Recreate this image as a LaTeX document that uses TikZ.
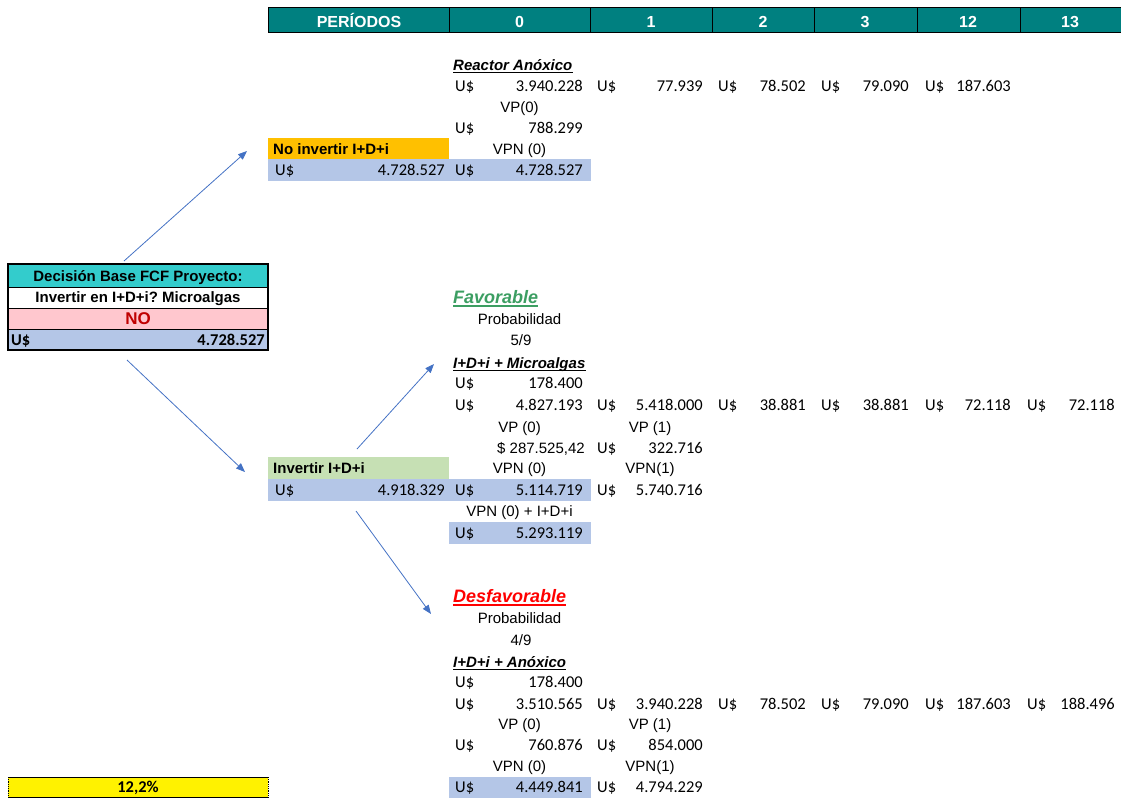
\documentclass[tikz,border=0pt]{standalone}
\usepackage{fontspec}
\setmainfont{Carlito}
\newfontfamily\arialf{Liberation Sans}
\usetikzlibrary{arrows.meta}
\frenchspacing
\definecolor{hdrteal}{HTML}{008080}
\definecolor{cellorange}{HTML}{FFC000}
\definecolor{cellblue}{HTML}{B4C6E7}
\definecolor{cellgreen}{HTML}{C6E0B4}
\definecolor{cellcyan}{HTML}{33CCCC}
\definecolor{cellpink}{HTML}{FFC7CE}
\definecolor{darkred}{HTML}{C00000}
\definecolor{favgreen}{HTML}{3C9E62}
\definecolor{arrblue}{HTML}{4472C4}
\tikzset{
  num/.style={inner sep=0pt, font=\fontsize{16.5}{18}\selectfont},
  numb/.style={inner sep=0pt, font=\bfseries\fontsize{16.5}{18}\selectfont},
  lab/.style={inner sep=0pt, font=\arialf\fontsize{15}{17}\selectfont},
  labb/.style={inner sep=0pt, font=\arialf\bfseries\fontsize{15}{17}\selectfont},
  ttl/.style={inner sep=0pt, font=\arialf\bfseries\itshape\fontsize{15}{17}\selectfont},
  bigttl/.style={inner sep=0pt, font=\arialf\bfseries\itshape\fontsize{18}{20}\selectfont},
  hdr/.style={inner sep=0pt, text=white, font=\arialf\bfseries\fontsize{16}{18}\selectfont},
  arr/.style={draw=arrblue, line width=0.8pt, -{Triangle[length=9pt,width=7pt]}},
  uline/.style={line width=1.6pt},
}
% #1 name, #2 x of U$, #3 right x of number, #4 row centre y, #5 number
\newcommand\usdcell[5]{%
  \node[num, anchor=base west] (#1-u) at (#2, #4+5) {U\$};
  \node[num, anchor=base east] (#1-v) at (#3, #4+5) {#5};}
\begin{document}
\begin{tikzpicture}[x=1pt,y=-1pt]
\useasboundingbox (0,0) rectangle (1121,801);
% ---------------- header
\fill[hdrteal] (268,7) rectangle (1121,32);
\draw[line width=0.8pt] (268,7) rectangle (1121,32);
\foreach \bx in {449,590,712,814,917,1020} \draw[line width=0.8pt] (\bx,7) -- (\bx,32);
\node[hdr, anchor=base] (hP) at (359,27) {PERÍODOS};
\node[hdr, anchor=base] (h0) at (519.5,27) {0};
\node[hdr, anchor=base] (h1) at (651,27) {1};
\node[hdr, anchor=base] (h2) at (763,27) {2};
\node[hdr, anchor=base] (h3) at (865,27) {3};
\node[hdr, anchor=base] (h12) at (968,27) {12};
\node[hdr, anchor=base] (h13) at (1070,27) {13};
% ---------------- fills
\fill[cellorange] (268,138) rectangle (449,159);
\fill[cellblue] (268,159) rectangle (591,181);
\fill[cellgreen] (268,457) rectangle (449,479);
\fill[cellblue] (268,479) rectangle (591,501);
\fill[cellblue] (449,522) rectangle (591,544);
\fill[cellblue] (449,777) rectangle (591,798);
% ---------------- top branch
\node[ttl, anchor=base west] (ra) at (453,70) {Reactor Anóxico};
\draw[uline] ([yshift=-2.5pt]ra.base west) -- ([yshift=-2.5pt]ra.base east);
\usdcell{t0}{455}{583}{86}{3.940.228}
\usdcell{t1}{597}{703}{86}{77.939}
\usdcell{t2}{718}{806}{86}{78.502}
\usdcell{t3}{821}{909}{86}{79.090}
\usdcell{t12}{925}{1011}{86}{187.603}
\node[lab, anchor=base] (tvp) at (519.5,112) {VP(0)};
\usdcell{tvpv}{455}{583}{128}{788.299}
\node[labb, anchor=base west] (noinv) at (273,154) {No invertir I+D+i};
\node[lab, anchor=base] (tvpn) at (519.5,154) {VPN (0)};
\usdcell{tl}{275}{445}{170}{4.728.527}
\usdcell{tr}{455}{583}{170}{4.728.527}
% ---------------- decision box
\fill[cellcyan] (8,264) rectangle (268,287);
\fill[white] (8,287) rectangle (268,308);
\fill[cellpink] (8,308) rectangle (268,329);
\fill[cellblue] (8,329) rectangle (268,350);
\foreach \by in {287,308,329} \draw[line width=0.8pt] (8,\by) -- (268,\by);
\draw[line width=1.6pt] (8,264) rectangle (268,350);
\node[labb, anchor=base] (dec1) at (138,281) {Decisión Base FCF Proyecto:};
\node[labb, anchor=base] (dec2) at (138,302.5) {Invertir en I+D+i? Microalgas};
\node[inner sep=0pt, anchor=base, text=darkred, font=\arialf\bfseries\fontsize{17}{19}\selectfont] (decno) at (138,324.5) {NO};
\node[numb, anchor=base west] (decu) at (11,345) {U\$};
\node[numb, anchor=base east] (decv) at (265,345) {4.728.527};
% ---------------- favorable branch
\node[bigttl, anchor=base west, text=favgreen] (fav) at (453,303.5) {Favorable};
\draw[uline, favgreen] ([yshift=-2.5pt]fav.base west) -- ([yshift=-2.5pt]fav.base east);
\node[lab, anchor=base] (fprob) at (519.5,324) {Probabilidad};
\node[lab, anchor=base] (fp) at (521,345) {5/9};
\node[ttl, anchor=base west] (fmic) at (453,368) {I+D+i + Microalgas};
\draw[uline] ([yshift=-2.5pt]fmic.base west) -- ([yshift=-2.5pt]fmic.base east);
\usdcell{fi}{455}{583}{383}{178.400}
\usdcell{f0}{455}{583}{405}{4.827.193}
\usdcell{f1}{597}{703}{405}{5.418.000}
\usdcell{f2}{718}{806}{405}{38.881}
\usdcell{f3}{821}{909}{405}{38.881}
\usdcell{f12}{925}{1011}{405}{72.118}
\usdcell{f13}{1027}{1115}{405}{72.118}
\node[lab, anchor=base] (fvp0) at (519.5,432) {VP (0)};
\node[lab, anchor=base] (fvp1) at (650,432) {VP (1)};
\node[lab, anchor=base east] (fvp0v) at (585,453) {\$ 287.525,42};
\usdcell{fvp1v}{597}{703}{448}{322.716}
\node[labb, anchor=base west] (inv) at (273,473) {Invertir I+D+i};
\node[lab, anchor=base] (fvpn0) at (519.5,473) {VPN (0)};
\node[lab, anchor=base] (fvpn1) at (650,473) {VPN(1)};
\usdcell{il}{275}{445}{490}{4.918.329}
\usdcell{fn0}{455}{583}{490}{5.114.719}
\usdcell{fn1}{597}{703}{490}{5.740.716}
\node[lab, anchor=base] (fvpni) at (519.5,516) {VPN (0) + I+D+i};
\usdcell{fni}{455}{583}{533}{5.293.119}
% ---------------- unfavorable branch
\node[bigttl, anchor=base west, text=red] (desf) at (453,602.5) {Desfavorable};
\draw[uline, red] ([yshift=-2.5pt]desf.base west) -- ([yshift=-2.5pt]desf.base east);
\node[lab, anchor=base] (dprob) at (519.5,623) {Probabilidad};
\node[lab, anchor=base] (dp) at (521,645) {4/9};
\node[ttl, anchor=base west] (danox) at (453,667) {I+D+i + Anóxico};
\draw[uline] ([yshift=-2.5pt]danox.base west) -- ([yshift=-2.5pt]danox.base east);
\usdcell{di}{455}{583}{682}{178.400}
\usdcell{d0}{455}{583}{704}{3.510.565}
\usdcell{d1}{597}{703}{704}{3.940.228}
\usdcell{d2}{718}{806}{704}{78.502}
\usdcell{d3}{821}{909}{704}{79.090}
\usdcell{d12}{925}{1011}{704}{187.603}
\usdcell{d13}{1027}{1115}{704}{188.496}
\node[lab, anchor=base] (dvp0) at (519.5,729) {VP (0)};
\node[lab, anchor=base] (dvp1) at (650,729) {VP (1)};
\usdcell{dvp0v}{455}{583}{745}{760.876}
\usdcell{dvp1v}{597}{703}{745}{854.000}
\node[lab, anchor=base] (dvpn0) at (519.5,771) {VPN (0)};
\node[lab, anchor=base] (dvpn1) at (650,771) {VPN(1)};
\usdcell{dn0}{455}{583}{787}{4.449.841}
\usdcell{dn1}{597}{703}{787}{4.794.229}
% ---------------- yellow rate box
\fill[yellow] (8,777) rectangle (268,797);
\draw[line width=0.8pt] (8,777) -- (268,777) (8,797) -- (268,797);
\draw[line width=0.8pt, densely dotted] (8,777) -- (8,797) (268,777) -- (268,797);
\node[numb, anchor=base] (rate) at (138,792) {12,2\%};
% ---------------- arrows
\coordinate (a1s) at (124,261); \coordinate (a1e) at (247,151);
\coordinate (a2s) at (127,360); \coordinate (a2e) at (245,472);
\coordinate (a3s) at (357,449); \coordinate (a3e) at (434,364);
\coordinate (a4s) at (356,511); \coordinate (a4e) at (431,614);
\draw[arr] (a1s) -- (a1e);
\draw[arr] (a2s) -- (a2e);
\draw[arr] (a3s) -- (a3e);
\draw[arr] (a4s) -- (a4e);
\end{tikzpicture}
\end{document}
